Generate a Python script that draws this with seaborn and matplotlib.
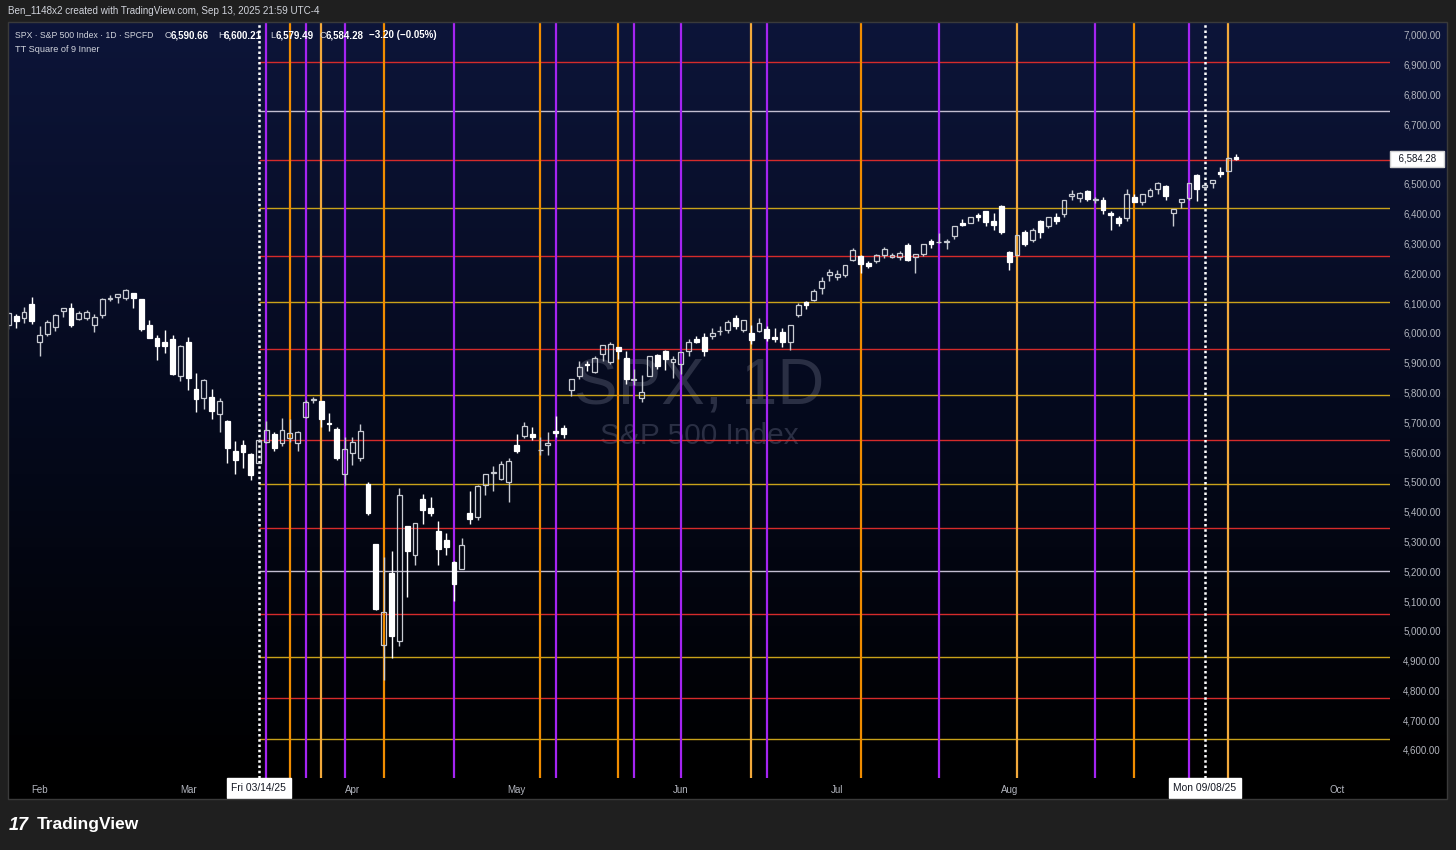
import numpy as np
import pandas as pd
import matplotlib
matplotlib.use("Agg")
import matplotlib.pyplot as plt
from matplotlib.colors import LinearSegmentedColormap
from matplotlib.patches import Rectangle
import seaborn as sns

W, H = 1456, 850

# trading calendar (US market holidays in the window)
holidays = ["2025-02-17", "2025-04-18", "2025-05-26", "2025-06-19", "2025-07-04", "2025-09-01"]

# daily SPX candles, Jan 28 .. Sep 12 2025
opens = [6026, 6057, 6050, 6096,
         5969, 5998, 6020, 6072, 6083, 6048, 6049, 6025, 6060, 6115, 6122, 6117, 6134, 6114, 6026, 5982, 5970, 5981, 5856,
         5969, 5812, 5781, 5785, 5727, 5705, 5603, 5625, 5594, 5563, 5635, 5662, 5632, 5646, 5631, 5718, 5775, 5771, 5696, 5679, 5527,
         5597, 5580, 5492, 5293, 4953, 5193, 4966, 5353, 5255, 5441, 5411, 5335, 5305, 5232, 5208, 5396, 5381, 5489, 5529, 5508, 5499,
         5625, 5655, 5660, 5606, 5624, 5672, 5680, 5808, 5854, 5893, 5869, 5929, 5902, 5954, 5915, 5842, 5782, 5855, 5925, 5938, 5903,
         5896, 5938, 5978, 5985, 5988, 6005, 6010, 6050, 6009, 6000, 6005, 6013, 5987, 6004, 5970, 6061, 6104, 6112, 6150, 6194,
         6187, 6193, 6244, 6259, 6233, 6242, 6262, 6256, 6255, 6295, 6254, 6264, 6307, 6304, 6306, 6326, 6368, 6370, 6397, 6409, 6375, 6427,
         6272, 6261, 6338, 6311, 6374, 6359, 6389, 6398, 6459, 6454, 6478, 6445, 6446, 6404, 6387, 6387, 6457, 6440, 6461, 6483, 6494,
         6401, 6439, 6453, 6530, 6489, 6503, 6539, 6545, 6590.66]
highs = [6069, 6062, 6086, 6120,
         6022, 6042, 6062, 6084, 6101, 6073, 6076, 6063, 6116, 6127, 6130, 6147, 6134, 6115, 6043, 5993, 6009, 5993, 5959,
         5987, 5866, 5846, 5812, 5783, 5706, 5636, 5642, 5597, 5645, 5704, 5669, 5716, 5711, 5670, 5775, 5786, 5773, 5732, 5685, 5650,
         5650, 5695, 5500, 5293, 5247, 5268, 5481, 5353, 5362, 5459, 5450, 5367, 5328, 5233, 5310, 5469, 5489, 5528, 5553, 5571, 5581,
         5659, 5700, 5683, 5649, 5668, 5721, 5691, 5845, 5906, 5906, 5924, 5959, 5968, 5954, 5939, 5878, 5858, 5922, 5930, 5943, 5923,
         5937, 5981, 5990, 5999, 6016, 6022, 6043, 6060, 6045, 6026, 6050, 6023, 6018, 6018, 6028, 6101, 6108, 6146, 6187, 6216,
         6210, 6227, 6284, 6263, 6242, 6265, 6290, 6269, 6276, 6302, 6265, 6298, 6315, 6336, 6316, 6359, 6381, 6389, 6401, 6409, 6402, 6428,
         6274, 6330, 6346, 6352, 6380, 6390, 6403, 6446, 6481, 6474, 6481, 6456, 6456, 6409, 6393, 6482, 6467, 6466, 6486, 6508, 6495,
         6416, 6450, 6503, 6533, 6497, 6513, 6556, 6592, 6600.21]
lows = [6012, 6018, 6032, 6030,
        5923, 5990, 6007, 6054, 6020, 6044, 6042, 6003, 6050, 6107, 6099, 6111, 6084, 6008, 5982, 5908, 5932, 5858, 5837,
        5810, 5733, 5743, 5711, 5667, 5565, 5528, 5546, 5505, 5562, 5631, 5603, 5622, 5633, 5603, 5715, 5764, 5684, 5670, 5572, 5489,
        5558, 5571, 5390, 5069, 4835, 4910, 4949, 5115, 5220, 5358, 5387, 5220, 5255, 5101, 5208, 5357, 5372, 5456, 5468, 5505, 5433,
        5597, 5647, 5639, 5590, 5590, 5650, 5646, 5788, 5844, 5872, 5867, 5907, 5895, 5913, 5830, 5825, 5768, 5854, 5880, 5875, 5849,
        5861, 5922, 5966, 5921, 5978, 5994, 6000, 6013, 6003, 5964, 6004, 5974, 5971, 5952, 5943, 6055, 6080, 6106, 6132, 6174,
        6178, 6189, 6241, 6201, 6217, 6234, 6251, 6251, 6246, 6241, 6202, 6259, 6286, 6302, 6281, 6315, 6360, 6368, 6375, 6360, 6344, 6331,
        6212, 6261, 6292, 6306, 6317, 6352, 6364, 6389, 6446, 6441, 6443, 6437, 6400, 6344, 6360, 6376, 6438, 6430, 6456, 6467, 6447,
        6360, 6419, 6445, 6444, 6483, 6485, 6523, 6545, 6579.49]
closes = [6067, 6039, 6071, 6040,
          5994, 6037, 6061, 6083, 6026, 6066, 6069, 6052, 6115, 6115, 6129, 6144, 6117, 6013, 5983, 5955, 5956, 5861, 5955,
          5850, 5778, 5842, 5739, 5770, 5615, 5572, 5599, 5522, 5639, 5675, 5615, 5675, 5663, 5668, 5768, 5777, 5712, 5693, 5581, 5612,
          5633, 5671, 5397, 5074, 5062, 4982, 5457, 5268, 5363, 5406, 5396, 5276, 5283, 5158, 5288, 5376, 5485, 5525, 5529, 5561, 5569,
          5604, 5687, 5650, 5607, 5631, 5664, 5660, 5844, 5886, 5892, 5916, 5958, 5964, 5940, 5844, 5842, 5802, 5921, 5889, 5912, 5911,
          5936, 5970, 5971, 5939, 6000, 6006, 6038, 6022, 6045, 5977, 6033, 5982, 5981, 5968, 6025, 6092, 6093, 6141, 6173, 6205,
          6199, 6227, 6279, 6230, 6226, 6263, 6280, 6260, 6269, 6244, 6264, 6297, 6297, 6306, 6309, 6358, 6363, 6389, 6390, 6371, 6362, 6339,
          6238, 6330, 6299, 6345, 6340, 6389, 6374, 6446, 6466, 6469, 6450, 6449, 6411, 6396, 6370, 6467, 6439, 6466, 6481, 6502, 6460,
          6416, 6448, 6502, 6482, 6495, 6512, 6532, 6588, 6584.28]
last_change = "−3.20 (−0.05%)"

# square of 9 price levels (drawn from the 03/14 anchor)
levels = [6909, 6745, 6580, 6419, 6258, 6104, 5946, 5792, 5640, 5493, 5345, 5201, 5056, 4912, 4774, 4637]
level_kinds = ["red", "pale", "red", "gold", "red", "gold", "red", "gold",
               "red", "gold", "red", "pale", "red", "gold", "red", "gold"]

# time lines
vline_dates = ["2025-03-17", "2025-03-20", "2025-03-24", "2025-03-26", "2025-03-31", "2025-04-07",
               "2025-04-21", "2025-05-06", "2025-05-08", "2025-05-20", "2025-05-22", "2025-06-02",
               "2025-06-13", "2025-06-17", "2025-07-07", "2025-07-21", "2025-08-04", "2025-08-18",
               "2025-08-25", "2025-09-04", "2025-09-11"]
vline_kinds = ["purple", "orange", "purple", "amber", "purple", "orange",
               "purple", "orange", "purple", "orange", "purple", "purple",
               "amber", "purple", "orange", "purple", "amber", "purple",
               "orange", "purple", "amber"]
marker_dates = ["2025-03-14", "2025-09-08"]
marker_labels = ["Fri 03/14/25", "Mon 09/08/25"]

colors = {"red": "#d52b2b", "gold": "#c9a21a", "pale": "#c2bdd0",
          "purple": "#a424f2", "orange": "#f08c00", "amber": "#f2a93b"}

cal = pd.bdate_range("2025-01-28", "2025-10-31", freq="C", holidays=holidays)
OFFSET = 4  # Feb 3 sits at x = 0


def bar_index(d):
    return cal.get_loc(pd.Timestamp(d)) - OFFSET


df = pd.DataFrame({"open": opens, "high": highs, "low": lows, "close": closes},
                  index=cal[:len(opens)])
df["x"] = np.arange(len(df)) - OFFSET
df["up"] = df["close"] >= df["open"]
df["top"] = df[["open", "close"]].max(axis=1)
df["bot"] = df[["open", "close"]].min(axis=1)

sns.set_style("dark")
plt.rcParams["font.family"] = ["Liberation Sans", "DejaVu Sans"]

fig = plt.figure(figsize=(W / 100, H / 100), dpi=100, facecolor="#1f1f1f")


def fx(px):
    return px / W


def fy(py):
    return 1 - py / H


# panel background gradient (navy -> black)
bg = fig.add_axes([fx(8), fy(799), fx(1439), (799 - 22) / H])
grad = LinearSegmentedColormap.from_list("tv", ["#0d1539", "#050a1e", "#000000"])
bg.imshow(np.linspace(0, 1, 256).reshape(-1, 1), aspect="auto", cmap=grad,
          extent=[0, 1, 0, 1], vmin=0, vmax=0.97)
bg.axis("off")

ax = fig.add_axes([fx(8), fy(778), fx(1382), (778 - 22) / H])
ax.set_facecolor("none")
ax.set_xlim(-4.05, 172.7)
ax.set_ylim(4506, 7043.6)
for s in ax.spines.values():
    s.set_visible(False)
ax.grid(False)

# watermark
ax.text(0.5, 0.516, "SPX, 1D", transform=ax.transAxes, ha="center", va="center",
        fontsize=47, color="#2a2f44", zorder=0)
ax.text(0.5, 0.452, "S&P 500 Index", transform=ax.transAxes, ha="center", va="center",
        fontsize=21.5, color="#2a2f44", zorder=0)

# price levels
x_anchor = bar_index(marker_dates[0])
for lv, kind in zip(levels, level_kinds):
    ax.hlines(lv, x_anchor, 172.7, color=colors[kind], lw=1, zorder=1)

# time lines
for d, kind in zip(vline_dates, vline_kinds):
    ax.axvline(bar_index(d), color=colors[kind], lw=1.6, zorder=1)
for d in marker_dates:
    ax.axvline(bar_index(d), color="white", lw=1.8, linestyle=(0, (1, 1.1)), zorder=1)

# candles
up = df[df["up"]]
dn = df[~df["up"]]
for part, face, edge in [(up, "none", "#c8cbd2"), (dn, "white", "white")]:
    ax.vlines(part["x"], part["top"], part["high"], color=edge, lw=1, zorder=3)
    ax.vlines(part["x"], part["low"], part["bot"], color=edge, lw=1, zorder=3)
    ax.bar(part["x"], np.maximum(part["top"] - part["bot"], 2.5), bottom=part["bot"],
           width=0.62, facecolor=face, edgecolor=edge, linewidth=0.9, zorder=4)

# price scale
ticks = np.arange(4600, 7001, 100)
ax.yaxis.tick_right()
ax.set_yticks(ticks)
ax.set_yticklabels([f"{v:,.2f}" for v in ticks])
ax.tick_params(axis="y", length=0, pad=9.5, labelsize=7, labelcolor="#b2b5be")

# time scale
pos = pd.Series(np.arange(len(cal)) - OFFSET, index=cal)
firsts = pos.groupby(cal.to_period("M")).first()
months = [m for m in firsts.index if m.month not in (1, 9)]
ax.set_xticks([firsts[m] for m in months])
ax.set_xticklabels([m.strftime("%b") for m in months])
ax.tick_params(axis="x", length=0, pad=5, labelsize=7, labelcolor="#b2b5be")

for d, lab in zip(marker_dates, marker_labels):
    ax.text(bar_index(d), -0.0132, lab, transform=ax.get_xaxis_transform(), ha="center", va="center",
            fontsize=7.4, color="#131722", zorder=6, clip_on=False,
            bbox=dict(boxstyle="square,pad=0.45", facecolor="white", edgecolor="white"))

# last price tag (sits over the 6,600 label like the original)
ax.text(1.0195, closes[-1], f"  {closes[-1]:,.2f}  ", transform=ax.get_yaxis_transform(),
        ha="center", va="center", fontsize=7, color="#131722", zorder=6, clip_on=False,
        bbox=dict(boxstyle="square,pad=0.3", facecolor="white", edgecolor="#d0d0d0"))

# header / legend
fig.text(fx(8), fy(11), "Ben_1148x2 created with TradingView.com, Sep 13, 2025 21:59 UTC-4",
         fontsize=7.1, color="#d1d4dc", va="center")
fig.text(fx(15), fy(35), "SPX · S&P 500 Index · 1D · SPCFD", fontsize=6.2, color="#d1d4dc", va="center")
ohlc = [(165, "O", f"{opens[-1]:,.2f}"), (218, "H", f"{highs[-1]:,.2f}"),
        (270, "L", f"{lows[-1]:,.2f}"), (320, "C", f"{closes[-1]:,.2f}")]
for px, k, v in ohlc:
    fig.text(fx(px), fy(35), k, fontsize=6.6, color="#d1d4dc", va="center")
    fig.text(fx(px + 6), fy(35), v, fontsize=7, color="white", va="center", fontweight="bold")
fig.text(fx(369), fy(35), last_change, fontsize=7, color="white", va="center", fontweight="bold")
fig.text(fx(15), fy(49), "TT Square of 9 Inner", fontsize=6.6, color="#d1d4dc", va="center")

# panel frame
fig.patches.append(Rectangle((fx(8), fy(799)), fx(1439), (799 - 22) / H, transform=fig.transFigure,
                             fill=False, edgecolor="#3a3a3a", lw=1))

# footer logo
fig.text(fx(9), fy(825), "17", fontsize=13, color="white", va="center", fontweight="heavy",
         fontstyle="italic")
fig.text(fx(37), fy(825), "TradingView", fontsize=12.5, color="white", va="center", fontweight="bold")

fig.savefig("out.png", dpi=100, facecolor=fig.get_facecolor())
